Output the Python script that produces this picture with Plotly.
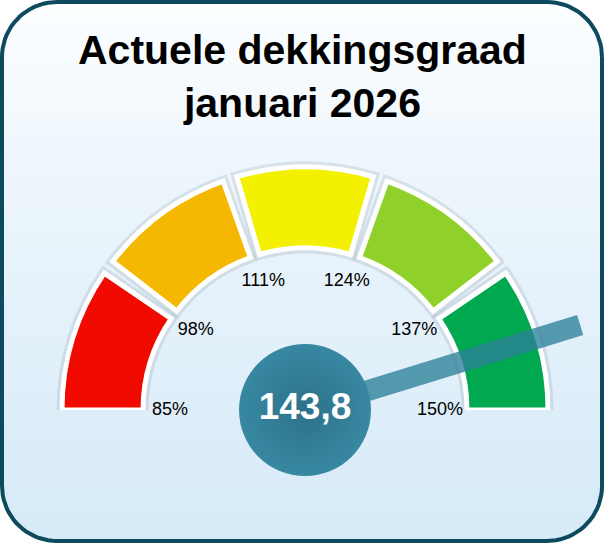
import numpy as np
import plotly.graph_objects as go

# Gauge data
thresholds = [85, 98, 111, 124, 137, 150]
threshold_labels = ["85%", "98%", "111%", "124%", "137%", "150%"]
segment_colors = ["#f00a00", "#f4b800", "#f3f000", "#8fd12a", "#00a94f"]
current_value = 143.8
value_text = "143,8"
title_text = "Actuele dekkingsgraad<br>januari 2026"

W, H = 604, 543
LO, HI = thresholds[0], thresholds[-1]
INNER, OUTER = 162, 243
LABEL_R = 135
GAP = 3.4            # degrees between segments
R_MAX = 295          # radial range; 1 unit = 1 px
CX, CY = 305, 133    # gauge centre in px (from left / from bottom)


def to_theta(v):
    # gauge value -> degrees along the half circle (0 = left, 180 = right)
    return (v - LO) / (HI - LO) * 180.0


def rounded_rect(x0, y0, x1, y1, rad, n=20):
    xs, ys = [], []
    corners = [(x1 - rad, y1 - rad, 0), (x0 + rad, y1 - rad, 90),
               (x0 + rad, y0 + rad, 180), (x1 - rad, y0 + rad, 270)]
    for cx, cy, a0 in corners:
        a = np.radians(np.linspace(a0, a0 + 90, n))
        xs += list(cx + rad * np.cos(a))
        ys += list(cy + rad * np.sin(a))
    return xs + [xs[0]], ys + [ys[0]]


fig = go.Figure()

# Background card
bx, by = rounded_rect(2, 2, W - 2, H - 2, 55)
fig.add_trace(go.Scatter(
    x=bx, y=by, mode="lines", fill="toself",
    line=dict(color="#0d4a5e", width=4),
    fillgradient=dict(type="vertical",
                      colorscale=[[0, "#d6eaf8"], [0.6, "#eaf4fb"], [1, "#fcfeff"]]),
    hoverinfo="skip", showlegend=False
))

# Gauge segments: gaps only between segments, ends sit on the baseline
n_seg = len(thresholds) - 1
starts = [to_theta(a) + (GAP / 2 if i > 0 else 0) for i, a in enumerate(thresholds[:-1])]
ends = [to_theta(b) - (GAP / 2 if i < n_seg - 1 else 0) for i, b in enumerate(thresholds[1:])]
mids = [(s + e) / 2 for s, e in zip(starts, ends)]
widths = [e - s for s, e in zip(starts, ends)]

fig.add_trace(go.Barpolar(
    r=[OUTER - INNER] * n_seg, base=[INNER] * n_seg, theta=mids, width=widths,
    marker=dict(color="rgba(0,0,0,0)", line=dict(color="rgba(80,100,120,0.14)", width=11)),
    hoverinfo="skip", showlegend=False
))
fig.add_trace(go.Barpolar(
    r=[OUTER - INNER] * n_seg, base=[INNER] * n_seg, theta=mids, width=widths,
    marker=dict(color=segment_colors, line=dict(color="white", width=5)),
    hoverinfo="skip", showlegend=False
))

# Threshold labels
fig.add_trace(go.Scatterpolar(
    r=[LABEL_R] * len(thresholds), theta=[to_theta(t) for t in thresholds],
    mode="text", text=threshold_labels,
    textfont=dict(family="Liberation Sans, Arial", size=18, color="black"),
    cliponaxis=False, hoverinfo="skip", showlegend=False
))

# Needle
t_val = to_theta(current_value)
fig.add_trace(go.Scatterpolar(
    r=[0, 288], theta=[t_val, t_val], mode="lines",
    line=dict(color="rgba(44,128,153,0.78)", width=21),
    cliponaxis=False, hoverinfo="skip", showlegend=False
))

# Value bubble
fig.add_trace(go.Scatterpolar(
    r=[0], theta=[t_val], mode="markers+text",
    marker=dict(size=132, color="#3888a2",
                gradient=dict(type="radial", color="#2c7189")),
    text=[value_text], textposition="middle center",
    textfont=dict(family="Liberation Sans, Arial", size=37, color="white", weight="bold"),
    cliponaxis=False, hoverinfo="skip", showlegend=False
))

fig.update_layout(
    width=W, height=H,
    margin=dict(l=0, r=0, t=0, b=0),
    paper_bgcolor="white",
    plot_bgcolor="rgba(0,0,0,0)",
    xaxis=dict(range=[0, W], visible=False, domain=[0, 1], fixedrange=True),
    yaxis=dict(range=[0, H], visible=False, domain=[0, 1], fixedrange=True),
    polar=dict(
        domain=dict(x=[(CX - R_MAX) / W, (CX + R_MAX) / W],
                    y=[CY / H, (CY + R_MAX) / H]),
        sector=[0, 180],
        bgcolor="rgba(0,0,0,0)",
        radialaxis=dict(range=[0, R_MAX], visible=False),
        angularaxis=dict(direction="clockwise", rotation=180, visible=False),
    ),
    annotations=[dict(
        text=title_text, x=0.5, y=1 - 77 / H, xref="paper", yref="paper",
        xanchor="center", yanchor="middle", showarrow=False,
        font=dict(family="Liberation Sans, Arial", size=41, color="black", weight="bold"),
    )],
    showlegend=False,
)

fig.write_html("out.html", config={"displayModeBar": False},
               post_script="document.body.style.margin='0';")
